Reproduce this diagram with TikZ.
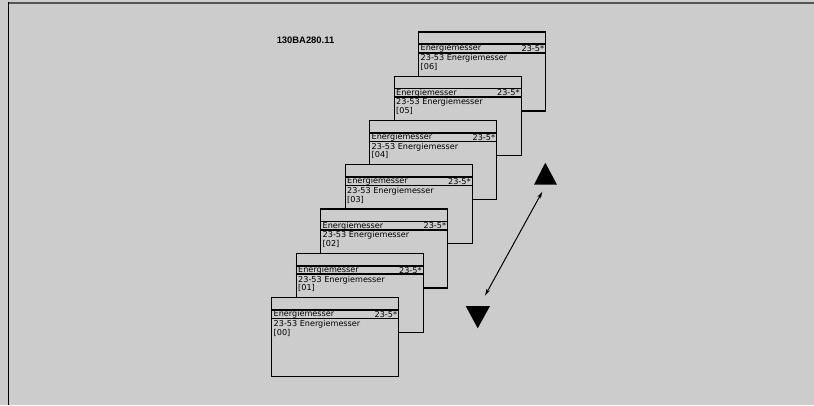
\documentclass[tikz,border=0pt]{standalone}
\usepackage{fontspec}
\setmainfont{DejaVu Sans}
\newfontfamily\labfont{Liberation Sans}
\usetikzlibrary{arrows.meta}
\definecolor{bg}{HTML}{CCCCCC}
\definecolor{topline}{HTML}{555555}
\tikzset{
  box/.style={draw=black, line width=1.3pt, fill=bg, rectangle, inner sep=0pt,
    minimum width=127pt, minimum height=79pt, anchor=north west},
  hdr/.style={draw=black, line width=1.6pt},
  txt/.style={inner sep=0pt, font=\fontsize{8.1}{8.8}\selectfont, text=black},
  lab/.style={inner sep=0pt, font=\labfont\bfseries\fontsize{9.4}{10}\selectfont},
  dbl/.style={<->, >={Stealth[length=7pt,width=4pt]}, line width=1pt},
  tri/.style={fill=black}
}
\begin{document}
\begin{tikzpicture}[x=1pt,y=-1pt]
\fill[bg] (0,0) rectangle (814,405);
\useasboundingbox (0,0) rectangle (814,405);
\draw[topline, line width=1.3pt] (8.3,3) -- (814,3);
\draw[black, line width=1.5pt] (8.3,2.4) -- (8.3,405);
\node[lab] (code) at (305.5,40) {130BA280.11};
\foreach \i in {6,5,4,3,2,1,0} {
  \pgfmathsetmacro\bx{271+24.5*\i}
  \pgfmathsetmacro\by{297-44.3*\i}
  \node[box] (b\i) at (\bx,\by) {};
  \draw[hdr] ([yshift=-13pt]b\i.north west) -- ([yshift=-13pt]b\i.north east);
  \draw[hdr] ([yshift=-21.5pt]b\i.north west) -- ([yshift=-21.5pt]b\i.north east);
  \node[txt, anchor=west] (h\i) at ([xshift=2.5pt,yshift=-17.4pt]b\i.north west) {Energiemesser};
  \node[txt, anchor=east] (r\i) at ([xshift=-2pt,yshift=-17.4pt]b\i.north east) {23-5*};
  \node[txt, anchor=north west, align=left] (t\i) at ([xshift=2.5pt,yshift=-23pt]b\i.north west) {23-53 Energiemesser\\{[0\i]}};
}
\coordinate (a1) at (542.3,191.7);
\coordinate (a2) at (485,295.7);
\draw[dbl] (a1) -- (a2);
\fill[tri] (545.3,162.7) -- (534,184.7) -- (557,184.7) -- cycle;
\fill[tri] (465.7,306) -- (490,306) -- (477.7,328.3) -- cycle;
\end{tikzpicture}
\end{document}
